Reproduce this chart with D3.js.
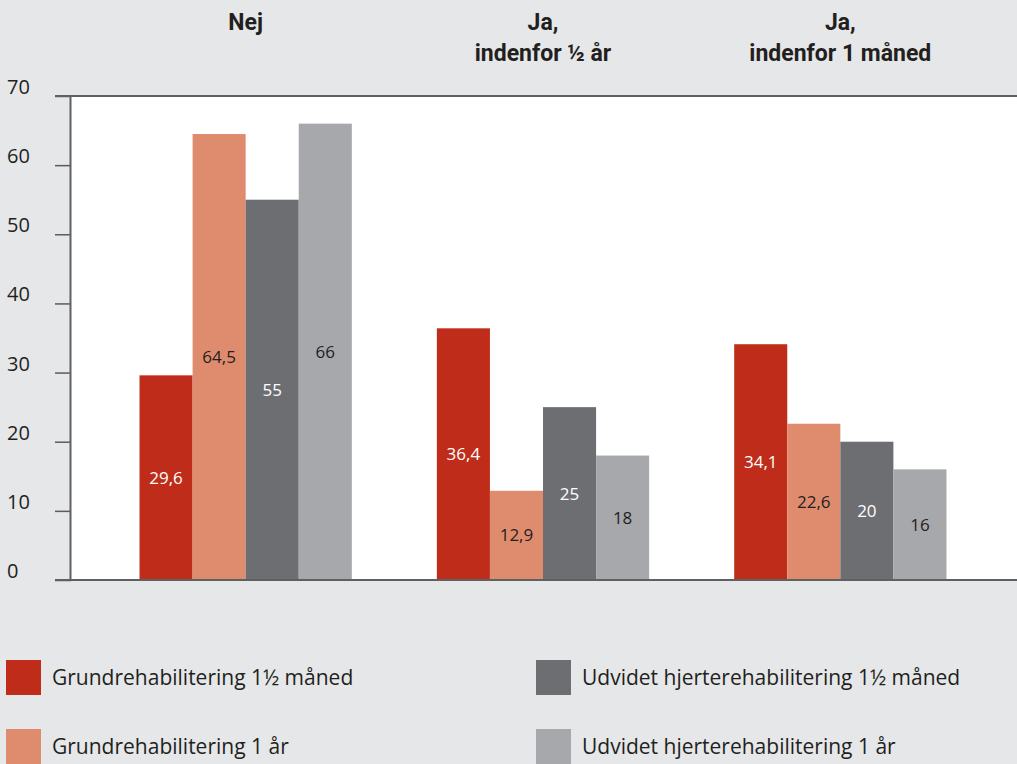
<!DOCTYPE html>
<html>
<head>
<meta charset="utf-8">
<script src="https://cdn.jsdelivr.net/npm/d3@7"></script>
<style>
  body { margin: 0; background: #e6e7e9; }
  svg { display: block; }
</style>
</head>
<body>
<div id="chart"></div>
<script>
// ---- data ----
var groups = ["Nej", "Ja,\nindenfor ½ år", "Ja,\nindenfor 1 måned"];
var seriesNames = [
  "Grundrehabilitering 1½ måned",
  "Grundrehabilitering 1 år",
  "Udvidet hjerterehabilitering 1½ måned",
  "Udvidet hjerterehabilitering 1 år"
];
var grund15 = [29.6, 36.4, 34.1];
var grund1 = [64.5, 12.9, 22.6];
var udv15 = [55, 25, 20];
var udv1 = [66, 18, 16];
var yTicks = [0, 10, 20, 30, 40, 50, 60, 70];

var colors = ["#bf2d1a", "#df8c6e", "#6d6e72", "#a7a8ab"];
var labelColors = ["#ffffff", "#231f20", "#ffffff", "#231f20"];
var fmt = function (v) { return String(v).replace(".", ","); };

// ---- layout ----
var W = 1017, H = 764;
var svg = d3.select("#chart").append("svg")
  .attr("width", W).attr("height", H);

svg.append("rect").attr("width", W).attr("height", H).attr("fill", "#e6e7e9");

var plotLeft = 71, plotTop = 96, plotBottom = 580;

var y = d3.scaleLinear().domain([0, 70]).range([plotBottom, plotTop]);

var x0 = d3.scaleBand()
  .domain(d3.range(groups.length))
  .range([97, 989])
  .paddingInner(0.286)
  .paddingOuter(0.143);

var x1 = d3.scaleBand()
  .domain(d3.range(seriesNames.length))
  .range([0, x0.bandwidth()]);

// plot background
svg.append("rect")
  .attr("x", plotLeft).attr("y", plotTop)
  .attr("width", W - plotLeft).attr("height", plotBottom - plotTop)
  .attr("fill", "#ffffff");

// build table for bars
var table = [];
groups.forEach(function (g, gi) {
  [grund15, grund1, udv15, udv1].forEach(function (arr, si) {
    table.push({ g: gi, s: si, v: arr[gi] });
  });
});

// bars
svg.append("g").selectAll("rect")
  .data(table)
  .enter().append("rect")
  .attr("x", function (d) { return x0(d.g) + x1(d.s); })
  .attr("y", function (d) { return y(d.v); })
  .attr("width", x1.bandwidth())
  .attr("height", function (d) { return y(0) - y(d.v); })
  .attr("fill", function (d) { return colors[d.s]; });

// value labels
svg.append("g").selectAll("text")
  .data(table)
  .enter().append("text")
  .attr("x", function (d) { return x0(d.g) + x1(d.s) + x1.bandwidth() / 2; })
  .attr("y", function (d) { return (y(d.v) + y(0)) / 2; })
  .attr("dy", "0.35em")
  .attr("text-anchor", "middle")
  .style("font-family", "'Open Sans', 'Noto Sans', sans-serif")
  .style("font-size", "17px")
  .attr("fill", function (d) { return labelColors[d.s]; })
  .text(function (d) { return fmt(d.v); });

// y axis: ticks left of plot, labels above tick
var axisG = svg.append("g").attr("transform", "translate(" + plotLeft + ",0)");
var yAxis = d3.axisLeft(y).tickValues(yTicks).tickSize(16).tickFormat("");
axisG.call(yAxis);
axisG.select(".domain").remove();
axisG.selectAll(".tick line").attr("stroke", "#5a5b5d").attr("stroke-width", 1.5);

svg.append("g").selectAll("text")
  .data(yTicks)
  .enter().append("text")
  .attr("x", 7)
  .attr("y", function (d) { return y(d) - 2; })
  .style("font-family", "'Open Sans', 'Noto Sans', sans-serif")
  .style("font-size", "20px")
  .attr("fill", "#231f20")
  .text(function (d) { return d; });

// frame lines: left, top, bottom
svg.append("line")
  .attr("x1", plotLeft - 0.5).attr("x2", plotLeft - 0.5)
  .attr("y1", plotTop).attr("y2", plotBottom)
  .attr("stroke", "#5f6062").attr("stroke-width", 2);
svg.append("line")
  .attr("x1", plotLeft - 16).attr("x2", W)
  .attr("y1", plotTop).attr("y2", plotTop)
  .attr("stroke", "#5f6062").attr("stroke-width", 2);
svg.append("line")
  .attr("x1", plotLeft - 16).attr("x2", W)
  .attr("y1", plotBottom).attr("y2", plotBottom)
  .attr("stroke", "#5f6062").attr("stroke-width", 2);

// group headers
var hdr = svg.append("g").selectAll("text")
  .data(groups)
  .enter().append("text")
  .attr("x", function (d, i) { return x0(i) + x0.bandwidth() / 2; })
  .attr("y", 30)
  .attr("text-anchor", "middle")
  .style("font-family", "Roboto, 'Noto Sans', sans-serif")
  .style("font-weight", "bold")
  .style("font-size", "23px")
  .attr("fill", "#231f20");
hdr.each(function (d) {
  var t = d3.select(this);
  d.split("\n").forEach(function (line, li) {
    t.append("tspan")
      .attr("x", t.attr("x"))
      .attr("dy", li === 0 ? 0 : 31)
      .text(line);
  });
});

// legend
var legendPos = [
  { x: 6, y: 660 },
  { x: 6, y: 729 },
  { x: 536, y: 660 },
  { x: 536, y: 729 }
];
var leg = svg.append("g").selectAll("g")
  .data(seriesNames)
  .enter().append("g")
  .attr("transform", function (d, i) { return "translate(" + legendPos[i].x + "," + legendPos[i].y + ")"; });
leg.append("rect")
  .attr("width", 35).attr("height", 35)
  .attr("fill", function (d, i) { return colors[i]; });
leg.append("text")
  .attr("x", 46).attr("y", 18).attr("dy", "0.35em")
  .style("font-family", "'Open Sans', 'Noto Sans', sans-serif")
  .style("font-size", "21px")
  .attr("fill", "#231f20")
  .text(function (d) { return d; });
</script>
</body>
</html>
